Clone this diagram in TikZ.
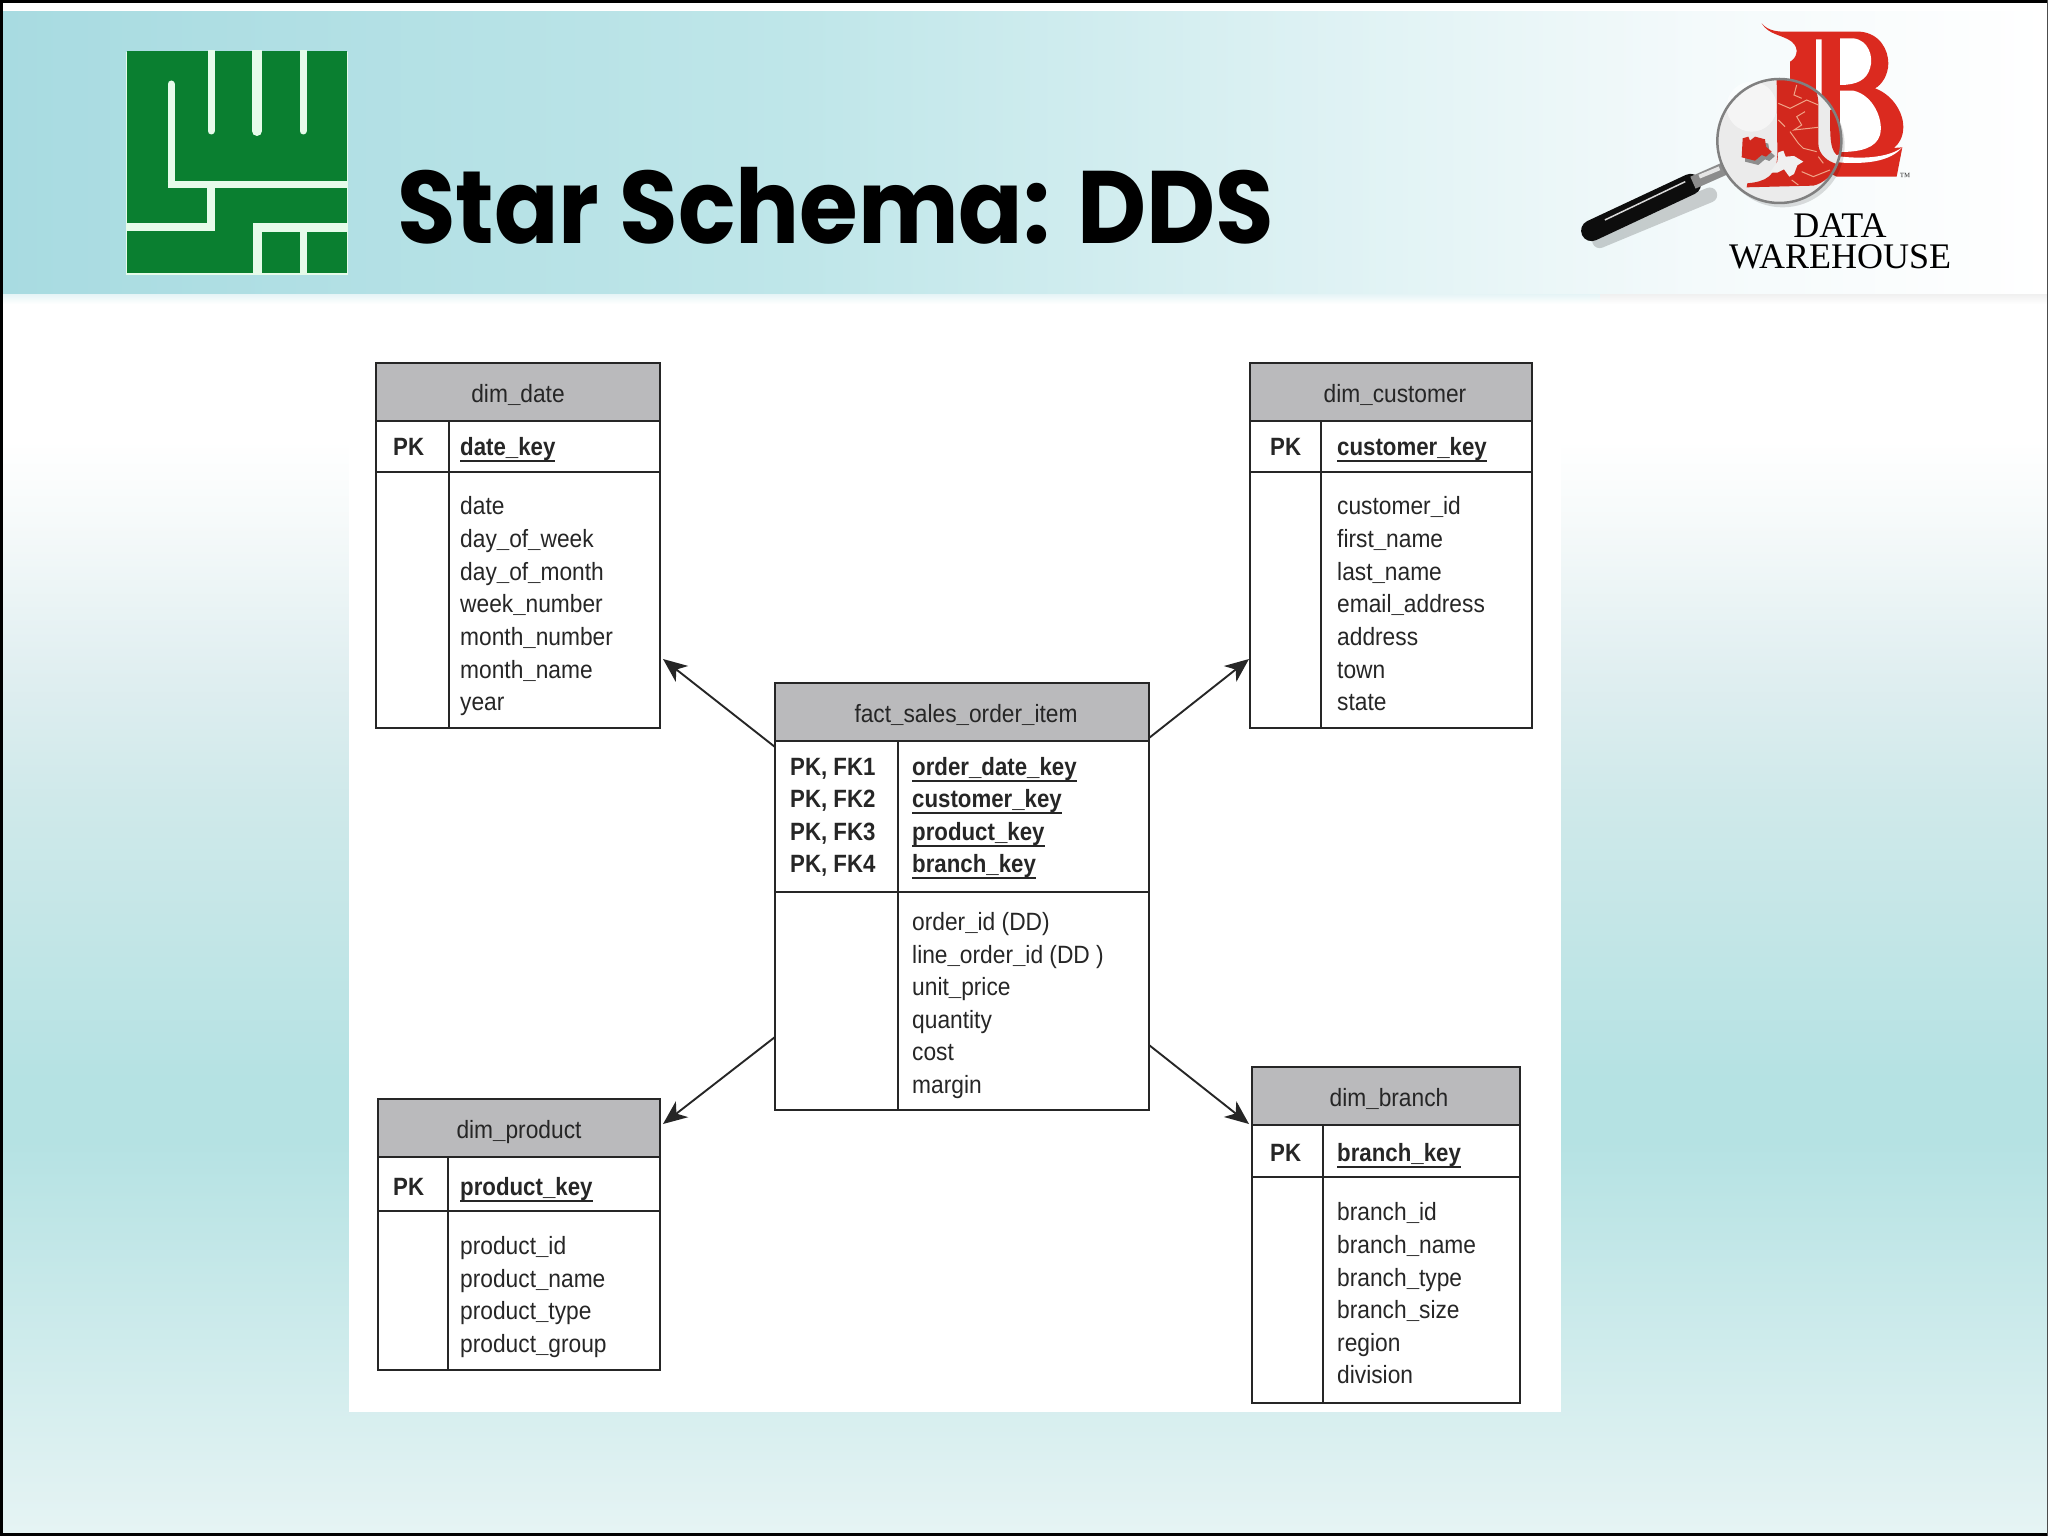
\documentclass[tikz,border=0pt]{standalone}
\usepackage{fontspec}
\setmainfont{Liberation Sans}
\newfontfamily\titlefont[FakeStretch=0.923]{Poppins}
\newfontfamily\logofont{Liberation Serif}
\newfontfamily\tblfont[FakeStretch=0.91,BoldFeatures={FakeStretch=0.89}]{Liberation Sans}
\usetikzlibrary{arrows.meta}
\definecolor{teal1}{HTML}{A8DBE1}
\definecolor{teal2}{HTML}{BFE6E9}
\definecolor{teal3}{HTML}{F4FAFB}
\definecolor{tealb}{HTML}{B5E2E3}
\definecolor{tealn}{HTML}{F6FAFA}
\definecolor{tealm}{HTML}{DFEEF0}
\definecolor{tealk}{HTML}{CFE9EA}
\definecolor{tealf}{HTML}{E6F4F4}
\definecolor{hdrg}{HTML}{BABABC}
\definecolor{ink}{HTML}{262626}
\definecolor{lgreen}{HTML}{0A7F30}
\definecolor{lline}{HTML}{E6FBEA}
\definecolor{lred}{HTML}{DB2A1F}
\definecolor{lredd}{HTML}{D2281D}
\definecolor{puzz}{HTML}{F0A488}
\tikzset{
 x=1pt,y=-1pt,
 tbl/.style={draw=ink,line width=1.8pt,fill=none,inner sep=0,outer sep=0,anchor=north west},
 divline/.style={draw=ink,line width=1.8pt},
 lbl/.style={inner sep=0,anchor=base west,text=ink,font=\tblfont\fontsize{25}{25}\selectfont},
 key/.style={lbl,font=\tblfont\bfseries\fontsize{25}{25}\selectfont},
 conn/.style={draw=ink,line width=1.9pt,-{Stealth[length=24pt,width=20pt,inset=7pt]}},
 lw/.style={lline,line width=#1},
 pz/.style={puzz,line width=1pt},
}
\newcommand{\ul}[1]{\setbox0\hbox{#1}\rlap{\rule[-6.5pt]{\wd0}{1.7pt}}\box0}
\newcommand{\us}{{\bfseries\_}}
\newcommand{\tablebox}[9]{%
 \fill[hdrg] (#2,#3) rectangle (#4,#5);
 \node[tbl,minimum width=#4-#2,minimum height=#7-#3] (#1) at (#2,#3) {};
 \node[inner sep=0,font=\tblfont\fontsize{25}{25}\selectfont,text=ink,anchor=base] (#1h) at ({(#2+#4)/2},{(#3+#5)/2+10}) {#9};
 \draw[divline] (#2,#5) -- (#4,#5);
 \draw[divline] (#2,#6) -- (#4,#6);
 \draw[divline] (#8,#5) -- (#8,#7);
}
\begin{document}
\begin{tikzpicture}
\useasboundingbox (0,0) rectangle (2048,1536);
% background
\fill[white] (0,0) rectangle (2048,1536);
\fill[top color=white,bottom color=tealn] (0,440) rectangle (2048,520);
\fill[top color=tealn,bottom color=tealm] (0,520) rectangle (2048,680);
\fill[top color=tealm,bottom color=tealk] (0,680) rectangle (2048,800);
\fill[top color=tealk,bottom color=tealb] (0,800) rectangle (2048,1080);
\fill[tealb] (0,1080) rectangle (2048,1140);
\fill[top color=tealb,bottom color=tealf] (0,1140) rectangle (2048,1536);
\fill[left color=teal1,right color=teal2] (0,12) rectangle (800,294);
\fill[left color=teal2,right color=teal3] (800,12) rectangle (1700,294);
\fill[left color=teal3,right color=white] (1700,12) rectangle (2048,294);
\fill[top color=teal1!30!white,bottom color=white] (0,294) rectangle (1600,304);
\fill[top color=black!6,bottom color=white] (1600,294) rectangle (2048,304);
\fill[black] (0,0) rectangle (2048,3);
\fill[black] (0,0) rectangle (2.5,1536);
\fill[black] (0,1533) rectangle (2048,1536);
\fill[black!70] (2046.5,0) rectangle (2048,1536);
\fill[white] (349,304) rectangle (1561,1412);
% left logo
\fill[lline] (126,52) rectangle (348,275);
\fill[lgreen] (127,51) rectangle (347,273);
\begin{scope}
\clip (126,51) rectangle (348,275);
\begin{scope}[line cap=round]
\draw[lw=7pt] (211,45) -- (211,131);
\draw[lw=10pt] (257,45) -- (257,131);
\draw[lw=7pt] (303,45) -- (303,131);
\end{scope}
\draw[lw=7pt,line cap=round] (171,84) -- (171,184);
\draw[lw=7pt] (167.5,184) -- (347,184);
\draw[lw=8pt] (211,184) -- (211,227) -- (127,227);
\draw[lw=9pt] (257,274) -- (257,227) -- (347,227);
\draw[lw=7pt] (303,227) -- (303,274);
\end{scope}
% title
\node[inner sep=0,anchor=base west,font=\titlefont\bfseries\fontsize{103}{103}\selectfont,text=black] (title) at (397,243) {Star Schema: DDS};
% right logo: handle
\begin{scope}[shift={(1500,0)},x=0.3495pt,y=-0.3333pt]
\draw[black,opacity=.18,line width=15pt,line cap=round] (285,722) -- (600,585);
\draw[black!95,line width=21pt,line cap=round] (262,692) -- (545,553);
\draw[black!15,line width=1.5pt] (300,660) -- (530,545);
\draw[black!45,line width=13pt] (552,548) -- (640,507);
\draw[black!10,line width=4pt] (570,530) -- (628,505);
\end{scope}
% right logo: letters and lens
\begin{scope}[shift={(1690,20)},x=0.3333pt,y=-0.3333pt]
\fill[lred] (215,10) .. controls (235,35) and (270,36) .. (300,35) -- (510,35)
 .. controls (570,40) and (595,90) .. (595,130) .. controls (595,165) and (575,195) .. (555,205)
 .. controls (610,225) and (640,280) .. (640,320) .. controls (640,350) and (628,370) .. (612,384)
 -- (637,382) -- (620,470) -- (440,470) -- (300,400) -- (300,125)
 .. controls (320,115) and (330,85) .. (305,65) .. controls (280,45) and (235,45) .. (215,10) -- cycle;
\fill[white] (378,58) -- (395,58) -- (395,350) .. controls (395,385) and (420,408) .. (455,410)
 .. controls (530,418) and (600,410) .. (637,382) .. controls (600,425) and (530,432) .. (455,428)
 .. controls (410,425) and (378,395) .. (378,345) -- cycle;
\fill[white] (450,55) -- (490,55) .. controls (535,60) and (552,110) .. (540,145) .. controls (530,180) and (500,195) .. (450,195) -- cycle;
\fill[white] (450,212) -- (490,212) .. controls (550,225) and (582,300) .. (570,345) .. controls (558,385) and (510,396) .. (450,396) -- cycle;
% lens
\fill[black,opacity=.13] (278,376) circle[radius=186];
\fill[black!8] (268,363) circle[radius=186];
\fill[white,opacity=.55] (185,260) circle[radius=75];
\begin{scope}
\clip (268,363) circle[radius=186];
\fill[lredd] (260,170) -- (350,170) .. controls (370,195) and (385,215) .. (385,250) -- (385,370)
 .. controls (385,405) and (415,425) .. (440,432) .. controls (430,465) and (400,490) .. (370,497) -- (170,502) -- (172,490)
 .. controls (225,485) and (262,470) .. (262,400) -- cycle;
\fill[lredd] (420,270) -- (460,270) -- (460,400) -- (440,405) .. controls (415,385) and (422,320) .. (420,270) -- cycle;
\fill[black!6] (265,397) -- (280,392) -- (287,410) -- (312,408) -- (340,425) -- (322,436) -- (312,462) -- (298,470) -- (282,448) -- (262,458) -- (240,458) -- (262,425) -- cycle;
\draw[pz] (320,195) -- (312,225) -- (335,235) (265,250) -- (300,265) -- (330,250) -- (350,240) -- (385,255);
\draw[pz] (345,275) -- (320,290) -- (335,315) -- (312,330) -- (385,322);
\draw[pz] (265,300) -- (285,320) (300,335) -- (325,370) -- (340,385) -- (380,395);
\draw[pz] (385,410) -- (400,430) (335,455) -- (370,470) -- (420,450) (305,480) -- (325,495);
\end{scope}
\draw[black!50,line width=2.5pt] (268,363) circle[radius=186];
\fill[black,opacity=.4] (167,368) -- (185,363) -- (190,375) -- (205,363) -- (235,371) -- (238,393) -- (255,408) -- (238,423) -- (225,418) -- (205,435) -- (165,425) -- cycle;
\fill[lredd] (158,355) -- (175,350) -- (180,362) -- (195,350) -- (225,358) -- (228,380) -- (245,395) -- (228,410) -- (215,405) -- (195,422) -- (155,412) -- cycle;
\end{scope}
\node[inner sep=0,align=center,font=\logofont\fontsize{36}{31}\selectfont,text=black,anchor=base] (wh) at (1840,268) {DATA\\WAREHOUSE};
\node[inner sep=0,font=\logofont\fontsize{11}{11}\selectfont,text=black!75] (tm) at (1905,177) {™};
% tables
\tablebox{date}{376}{363}{660}{421}{472}{728}{449}{dim\us date}
\tablebox{cust}{1250}{363}{1532}{421}{472}{728}{1321}{\hspace*{8pt}dim\us customer}
\tablebox{fact}{775}{683}{1149}{741}{892}{1110}{898}{\hspace*{8pt}fact\us sales\us order\us item}
\tablebox{prod}{378}{1099}{660}{1157}{1211}{1370}{448}{dim\us product}
\tablebox{bran}{1252}{1067}{1520}{1125}{1177}{1403}{1323}{\hspace*{6pt}dim\us branch}
% dim_date
\node[key] (d0) at (393,455) {PK};
\node[key] (d1) at (460,455) {\ul{date\us key}};
\node[lbl] (d2) at (460,514) {date};
\node[lbl] (d3) at (460,547) {day\us of\us week};
\node[lbl] (d4) at (460,580) {day\us of\us month};
\node[lbl] (d5) at (460,612) {week\us number};
\node[lbl] (d6) at (460,645) {month\us number};
\node[lbl] (d7) at (460,678) {month\us name};
\node[lbl] (d8) at (460,710) {year};
% dim_customer
\node[key] (c0) at (1270,455) {PK};
\node[key] (c1) at (1337,455) {\ul{customer\us key}};
\node[lbl] (c2) at (1337,514) {customer\us id};
\node[lbl] (c3) at (1337,547) {first\us name};
\node[lbl] (c4) at (1337,580) {last\us name};
\node[lbl] (c5) at (1337,612) {email\us address};
\node[lbl] (c6) at (1337,645) {address};
\node[lbl] (c7) at (1337,678) {town};
\node[lbl] (c8) at (1337,710) {state};
% fact
\node[key] (f0) at (790,775) {PK, FK1};
\node[key] (f1) at (790,807) {PK, FK2};
\node[key] (f2) at (790,840) {PK, FK3};
\node[key] (f3) at (790,872) {PK, FK4};
\node[key] (f4) at (912,775) {\ul{order\us date\us key}};
\node[key] (f5) at (912,807) {\ul{customer\us key}};
\node[key] (f6) at (912,840) {\ul{product\us key}};
\node[key] (f7) at (912,872) {\ul{branch\us key}};
\node[lbl] (f8) at (912,930) {order\us id (DD)};
\node[lbl] (f9) at (912,963) {line\us order\us id (DD )};
\node[lbl] (f10) at (912,995) {unit\us price};
\node[lbl] (f11) at (912,1028) {quantity};
\node[lbl] (f12) at (912,1060) {cost};
\node[lbl] (f13) at (912,1093) {margin};
% dim_product
\node[key] (p0) at (393,1195) {PK};
\node[key] (p1) at (460,1195) {\ul{product\us key}};
\node[lbl] (p2) at (460,1254) {product\us id};
\node[lbl] (p3) at (460,1287) {product\us name};
\node[lbl] (p4) at (460,1319) {product\us type};
\node[lbl] (p5) at (460,1352) {product\us group};
% dim_branch
\node[key] (b0) at (1270,1161) {PK};
\node[key] (b1) at (1337,1161) {\ul{branch\us key}};
\node[lbl] (b2) at (1337,1220) {branch\us id};
\node[lbl] (b3) at (1337,1253) {branch\us name};
\node[lbl] (b4) at (1337,1286) {branch\us type};
\node[lbl] (b5) at (1337,1318) {branch\us size};
\node[lbl] (b6) at (1337,1351) {region};
\node[lbl] (b7) at (1337,1383) {division};
% connectors
\draw[conn] ([yshift=-64pt]fact.north west) -- ([xshift=3pt,yshift=69pt]date.south east);
\draw[conn] ([yshift=-55pt]fact.north east) -- ([xshift=-1pt,yshift=69pt]cust.south west);
\draw[conn] ([yshift=73pt]fact.south west) -- ([xshift=3pt,yshift=-25pt]prod.north east);
\draw[conn] ([yshift=65pt]fact.south east) -- ([xshift=-3pt,yshift=-57pt]bran.north west);
\end{tikzpicture}
\end{document}
